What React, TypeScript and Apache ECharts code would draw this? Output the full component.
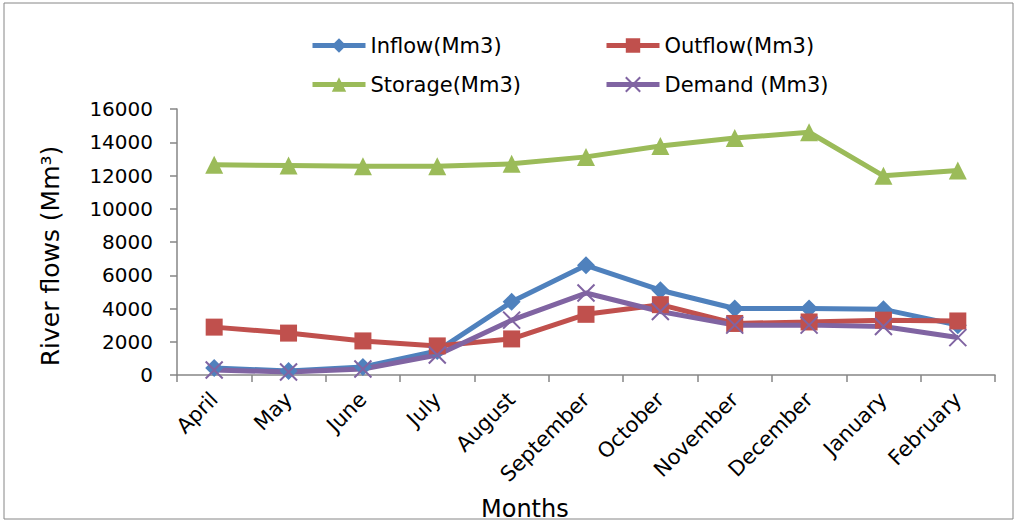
import React, { useEffect, useRef } from "react";
import * as echarts from "echarts";

const months = ["April", "May", "June", "July", "August", "September", "October", "November", "December", "January", "February"];
const inflow = [420, 240, 480, 1450, 4400, 6600, 5100, 4000, 4000, 3950, 3000];
const outflow = [2880, 2520, 2050, 1750, 2170, 3650, 4230, 3100, 3190, 3300, 3250];
const storage = [12650, 12600, 12550, 12550, 12700, 13120, 13780, 14250, 14600, 11980, 12300];
const demand = [300, 180, 360, 1200, 3300, 4930, 3820, 3000, 3000, 2920, 2250];
const yTicks = { min: 0, max: 16000, interval: 2000 };

const FONT = "'DejaVu Sans', Verdana, sans-serif";
const crossPath = "path://M0,0L10,10M10,0L0,10";

export default function App() {
  const ref = useRef<HTMLDivElement>(null);

  useEffect(() => {
    document.body.style.margin = "0";
    const chart = echarts.init(ref.current!, null, { renderer: "svg" });
    const lineSeries = (name: string, data: number[], color: string, symbol: string, symbolSize: number, itemExtra: any = {}) => ({
      name,
      type: "line",
      data,
      symbol,
      symbolSize,
      lineStyle: { color, width: 5 },
      itemStyle: { color, ...itemExtra },
      emphasis: { disabled: true },
    });
    const legendBase = {
      orient: "vertical",
      top: 30,
      itemGap: 18,
      itemWidth: 53,
      itemHeight: 18,
      lineStyle: { width: 5 },
      textStyle: { fontSize: 21, color: "#000", fontFamily: FONT },
    };
    chart.setOption({
      animation: false,
      backgroundColor: "#fff",
      textStyle: { fontFamily: FONT },
      grid: { left: 177, right: 23, top: 109, bottom: 147 },
      legend: [
        { ...legendBase, left: 305, data: ["Inflow(Mm3)", "Storage(Mm3)"] },
        { ...legendBase, left: 599, data: ["Outflow(Mm3)", "Demand (Mm3)"] },
      ],
      xAxis: {
        type: "category",
        data: months,
        boundaryGap: true,
        axisLine: { lineStyle: { color: "#868686", width: 1.5 } },
        axisTick: { show: true, length: 7, lineStyle: { color: "#868686", width: 1.5 } },
        axisLabel: { rotate: 45, fontSize: 21, color: "#000", margin: 21, fontFamily: FONT },
      },
      yAxis: {
        type: "value",
        min: yTicks.min,
        max: yTicks.max,
        interval: yTicks.interval,
        axisLine: { show: true, lineStyle: { color: "#868686", width: 1.5 } },
        axisTick: { show: true, length: 7, lineStyle: { color: "#868686", width: 1.5 } },
        axisLabel: { fontSize: 20, color: "#000", margin: 24, fontFamily: FONT, formatter: (v: number) => String(v) },
        splitLine: { show: false },
      },
      series: [
        lineSeries("Inflow(Mm3)", inflow, "#4F81BD", "diamond", 18),
        lineSeries("Outflow(Mm3)", outflow, "#C0504D", "rect", 17),
        lineSeries("Storage(Mm3)", storage, "#9BBB59", "triangle", 18),
        lineSeries("Demand (Mm3)", demand, "#8064A2", crossPath, 17, { borderColor: "#8064A2", borderWidth: 2 }),
      ],
      graphic: [
        {
          type: "rect",
          shape: { x: 4, y: 3, width: 1009, height: 516 },
          style: { fill: "none", stroke: "#868686", lineWidth: 1 },
          silent: true,
        },
        {
          type: "text",
          x: 50,
          y: 256,
          rotation: Math.PI / 2,
          style: {
            text: "River flows (Mm³)",
            fontSize: 25,
            fill: "#000",
            fontFamily: FONT,
            align: "center",
            verticalAlign: "middle",
          },
        },
        {
          type: "text",
          left: 481,
          top: 497,
          style: { text: "Months", fontSize: 24, fill: "#000", fontFamily: FONT },
        },
      ],
    });
    return () => chart.dispose();
  }, []);

  return <div ref={ref} style={{ width: 1018, height: 522 }} />;
}
